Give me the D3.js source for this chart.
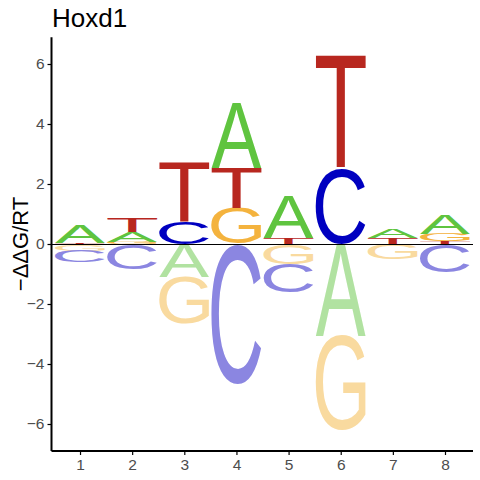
<!DOCTYPE html>
<html>
<head>
<meta charset="utf-8">
<script src="https://cdn.jsdelivr.net/npm/d3@7"></script>
<style>
  body { margin: 0; background: #fff; }
  svg { display: block; }
</style>
</head>
<body>
<svg id="chart"></svg>
<script>
// energy logo, one column per position, value signed (-ddG/RT)
var positions = [1, 2, 3, 4, 5, 6, 7, 8]
var valA = [0.58, 0.34, -1.09, 2.17, 1.40, -3.08, 0.29, 0.65]
var valC = [-0.40, -0.84, 0.74, -4.67, -0.94, 2.52, 0, -0.93]
var valG = [-0.22, 0.07, -1.58, 1.19, -0.67, -3.14, -0.50, 0.24]
var valT = [0.05, 0.45, 1.97, 1.33, 0.20, 3.75, 0.21, 0.08]
var yTicks = [-6, -4, -2, 0, 2, 4, 6]
var titre = "Hoxd1"

// couleurs : au-dessus / en dessous de zero
var couleurs = {
  A: ["#5fc43f", "#b1e2a1"],
  C: ["#0000c0", "#8b86e1"],
  G: ["#f4b33e", "#f9da9f"],
  T: ["#b8271f", "#dc938f"]
}

var W = 480, H = 480
var svg = d3.select("#chart").attr("width", W).attr("height", H)

var x = d3.scaleLinear().domain([0.453, 8.537]).range([51.5, 473])
var y = d3.scaleLinear().domain([-6.9, 6.89]).range([451, 37.3])
var largeur = 0.96

// limites de l'encre de chaque lettre (canvas measureText)
var police = "'Liberation Sans', Arial, sans-serif"
var ctx = document.createElement("canvas").getContext("2d")
ctx.font = "100px " + police
var encre = {}
"ACGT".split("").forEach(function(l){
  var m = ctx.measureText(l)
  encre[l] = {
    x0: -m.actualBoundingBoxLeft, x1: m.actualBoundingBoxRight,
    y0: -m.actualBoundingBoxAscent, y1: m.actualBoundingBoxDescent
  }
})

// construction des piles
var valeurs = {A: valA, C: valC, G: valG, T: valT}
var lettres = []
positions.forEach(function(p, i){
  var col = ["A", "C", "G", "T"].map(function(l){ return {l: l, v: valeurs[l][i]} })
  var pos = col.filter(function(d){ return d.v > 0 }).sort(function(a, b){ return a.v - b.v })
  var neg = col.filter(function(d){ return d.v < 0 }).sort(function(a, b){ return b.v - a.v })
  var base = 0
  pos.forEach(function(d){
    lettres.push({p: p, l: d.l, lo: base, hi: base + d.v, c: couleurs[d.l][0]})
    base += d.v
  })
  base = 0
  neg.forEach(function(d){
    lettres.push({p: p, l: d.l, lo: base + d.v, hi: base, c: couleurs[d.l][1]})
    base += d.v
  })
})

var g = svg.append("g")
g.selectAll("text.lettre")
  .data(lettres)
  .enter()
  .append("text")
  .attr("class", "lettre")
  .text(function(d){ return d.l })
  .attr("fill", function(d){ return d.c })
  .style("font-family", police)
  .style("font-size", "100px")
  .attr("transform", function(d){
    var e = encre[d.l]
    var x0 = x(d.p - largeur / 2), x1 = x(d.p + largeur / 2)
    var y0 = y(d.hi), y1 = y(d.lo)
    var sx = (x1 - x0) / (e.x1 - e.x0)
    var sy = (y1 - y0) / (e.y1 - e.y0)
    return "translate(" + x0 + "," + y0 + ") scale(" + sx + "," + sy + ") translate(" + (-e.x0) + "," + (-e.y0) + ")"
  })

// ligne du zero
var y0ligne = Math.round(y(0)) + 0.5
svg.append("line")
  .attr("x1", x.range()[0]).attr("x2", x.range()[1])
  .attr("y1", y0ligne).attr("y2", y0ligne)
  .attr("style", "stroke:black;stroke-width:1.2")

// axes
var axeY = d3.axisLeft(y).tickValues(yTicks).tickSize(4).tickPadding(3)
var axeX = d3.axisBottom(x).tickValues(positions).tickSize(4).tickPadding(4)

var gy = svg.append("g").attr("transform", "translate(" + x.range()[0] + ",0)").call(axeY)
var gx = svg.append("g").attr("transform", "translate(0," + y.range()[0] + ")").call(axeX)

;[gx, gy].forEach(function(a){
  a.select(".domain").attr("stroke", "black").attr("stroke-width", 2)
  a.selectAll(".tick line").attr("stroke", "black").attr("stroke-width", 1.2)
  a.selectAll(".tick text")
    .attr("fill", "#4d4d4d")
    .style("font-family", police)
    .style("font-size", "15.5px")
})
gy.select(".domain").attr("d", "M0," + y.range()[1] + "V" + y.range()[0])
gx.select(".domain").attr("d", "M" + x.range()[0] + ",0H" + x.range()[1])

// titres
svg.append("text")
  .text(titre)
  .attr("x", 52)
  .attr("y", 27)
  .attr("fill", "black")
  .style("font-family", police)
  .style("font-size", "26px")

svg.append("text")
  .text("\u2212\u0394\u0394G/RT")
  .attr("transform", "translate(28," + y(0) + ") rotate(-90)")
  .attr("text-anchor", "middle")
  .attr("fill", "black")
  .style("font-family", police)
  .style("font-size", "22px")
</script>
</body>
</html>
